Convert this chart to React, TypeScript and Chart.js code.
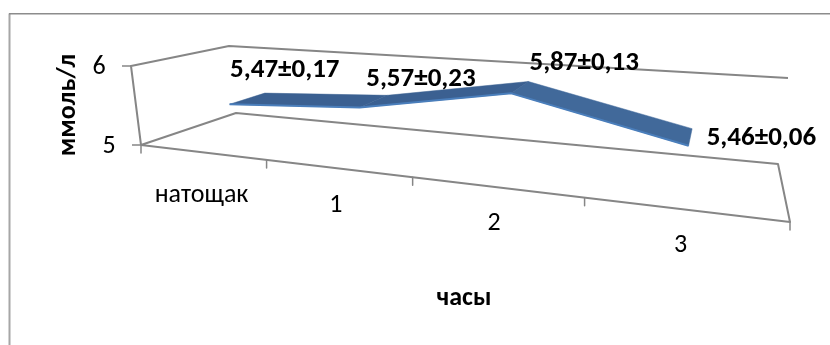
import React, { useEffect, useRef } from "react";
import { Chart, registerables } from "chart.js";

Chart.register(...registerables);

const categories = ["натощак", "1", "2", "3"];
const glucose = [5.47, 5.57, 5.87, 5.46];
const spread = [0.17, 0.23, 0.13, 0.06];
const valueTicks = [5, 6];

const VALUE_MIN = 5;
const VALUE_MAX = 6;
const WIDTH = 830;
const HEIGHT = 345;

type Pt = { x: number; y: number };

// Corners of the 3D plot box on screen: floor and ceiling, front-left, front-right, back-right, back-left.
const floorQuad: Pt[] = [
  { x: 141, y: 145 },
  { x: 790, y: 222 },
  { x: 778, y: 164 },
  { x: 236, y: 113 },
];
const ceilingQuad: Pt[] = [
  { x: 131, y: 66 },
  { x: 803.6, y: 112.4 },
  { x: 788, y: 78 },
  { x: 229, y: 46 },
];

// Depth band occupied by the ribbon inside the box.
const RIBBON_FRONT = 0.3;
const RIBBON_BACK = 0.7;
// Small correction of each ribbon vertex along the category axis.
const ribbonNudge = [0, -0.007, -0.014, -0.005];

const ribbonFaces = ["#3b6091", "#3b6091", "#41699a"];
const ribbonEdge = "#4a7ebb";
const axisGrey = "#868686";
const fontStack = "Carlito, Lato, 'Open Sans', sans-serif";

// Unit square to quadrilateral perspective mapping.
function squareToQuad(q: Pt[]) {
  const [p0, p1, p2, p3] = q;
  const dx1 = p1.x - p2.x, dx2 = p3.x - p2.x, sx = p0.x - p1.x + p2.x - p3.x;
  const dy1 = p1.y - p2.y, dy2 = p3.y - p2.y, sy = p0.y - p1.y + p2.y - p3.y;
  const den = dx1 * dy2 - dx2 * dy1;
  const g = (sx * dy2 - dx2 * sy) / den;
  const h = (dx1 * sy - sx * dy1) / den;
  const a = p1.x - p0.x + g * p1.x, b = p3.x - p0.x + h * p3.x, c = p0.x;
  const d = p1.y - p0.y + g * p1.y, e = p3.y - p0.y + h * p3.y, f = p0.y;
  return (u: number, w: number): Pt => {
    const t = g * u + h * w + 1;
    return { x: (a * u + b * w + c) / t, y: (d * u + e * w + f) / t };
  };
}

const floorMap = squareToQuad(floorQuad);
const ceilingMap = squareToQuad(ceilingQuad);

// Position along the category axis (0..1), value, depth (0 front, 1 back) to screen.
function project(u: number, value: number, w: number): Pt {
  const a = floorMap(u, w);
  const b = ceilingMap(u, w);
  const t = (value - VALUE_MIN) / (VALUE_MAX - VALUE_MIN);
  return { x: a.x + (b.x - a.x) * t, y: a.y + (b.y - a.y) * t };
}

const slot = (i: number) => (i + 0.5) / categories.length;
const ribbonSlot = (i: number) => slot(i) + ribbonNudge[i];

const lineSet = (data: Pt[], color = axisGrey, width = 2) => ({
  data,
  showLine: true,
  borderColor: color,
  borderWidth: width,
  pointRadius: 0,
  fill: false,
  tension: 0,
  borderJoinStyle: "round" as const,
});

const faceSet = (data: Pt[], color: string) => ({
  data,
  showLine: true,
  borderColor: color,
  borderWidth: 0.5,
  backgroundColor: color,
  pointRadius: 0,
  fill: "shape" as const,
  tension: 0,
});

function buildDatasets() {
  const front = glucose.map((v, i) => project(ribbonSlot(i), v, RIBBON_FRONT));
  const back = glucose.map((v, i) => project(ribbonSlot(i), v, RIBBON_BACK));

  const faces = ribbonFaces.map((color, i) =>
    faceSet([front[i], front[i + 1], back[i + 1], back[i], front[i]], color)
  );

  const walls = [
    // floor outline
    lineSet([
      project(0, VALUE_MIN, 0),
      project(1, VALUE_MIN, 0),
      project(1, VALUE_MIN, 1),
      project(0, VALUE_MIN, 1),
      project(0, VALUE_MIN, 0),
    ]),
    // left wall front edge and top rim of the walls
    lineSet([
      project(0, VALUE_MIN, 0),
      project(0, VALUE_MAX, 0),
      project(0, VALUE_MAX, 1),
      project(1, VALUE_MAX, 1),
    ]),
  ];

  const valueTickMarks = valueTicks.map((v) => {
    const p = project(0, v, 0);
    return lineSet([{ x: p.x - 9, y: p.y }, p], axisGrey, 1.5);
  });

  const categoryTickMarks = [0, 1, 2, 3, 4].map((k) => {
    const p = project(k / categories.length, VALUE_MIN, 0);
    return lineSet([p, { x: p.x, y: p.y + 8 }], axisGrey, 1.5);
  });

  return [
    ...walls,
    ...valueTickMarks,
    ...categoryTickMarks,
    lineSet(front, ribbonEdge, 2),
    ...faces,
  ];
}

// Hand-tuned text placement, relative to the projected anchor of each label.
const pointLabelOffsets: Pt[] = [
  { x: 37, y: -28 },
  { x: 47, y: -22 },
  { x: 64, y: -24 },
  { x: 71, y: 1 },
];
const categoryLabelOffsets: Pt[] = [
  { x: 0, y: 43 },
  { x: -1, y: 37 },
  { x: -1, y: 37 },
  { x: -2, y: 36 },
];

const drawText = (
  ctx: CanvasRenderingContext2D,
  text: string,
  x: number,
  y: number,
  font: string,
  angle = 0
) => {
  ctx.save();
  ctx.translate(x, y);
  ctx.rotate(angle);
  ctx.font = font;
  ctx.fillStyle = "#000000";
  ctx.textAlign = "center";
  ctx.textBaseline = "middle";
  ctx.fillText(text, 0, 0);
  ctx.restore();
};

const formatValue = (v: number) => v.toFixed(2).replace(".", ",");

const annotationPlugin = {
  id: "plotAnnotations",
  afterDraw(chart: Chart) {
    const ctx = chart.ctx;
    ctx.save();
    // outer chart frame, left and top edges
    ctx.lineWidth = 2;
    ctx.strokeStyle = "#a6a6a6";
    ctx.beginPath();
    ctx.moveTo(9.5, HEIGHT);
    ctx.lineTo(9.5, 13.5);
    ctx.stroke();
    ctx.lineWidth = 1.5;
    ctx.strokeStyle = "#8c8c8c";
    ctx.beginPath();
    ctx.moveTo(9, 13.75);
    ctx.lineTo(WIDTH, 13.75);
    ctx.stroke();
    ctx.restore();

    valueTicks.forEach((v) => {
      const p = project(0, v, 0);
      drawText(ctx, String(v), p.x - 32, p.y + 1, `26px ${fontStack}`);
    });
    categories.forEach((c, i) => {
      const p = project(slot(i), VALUE_MIN, 0);
      const o = categoryLabelOffsets[i];
      drawText(ctx, c, p.x + o.x, p.y + o.y, `26px ${fontStack}`);
    });
    glucose.forEach((v, i) => {
      const p = project(ribbonSlot(i), v, (RIBBON_FRONT + RIBBON_BACK) / 2);
      const o = pointLabelOffsets[i];
      drawText(
        ctx,
        `${formatValue(v)}±${formatValue(spread[i])}`,
        p.x + o.x,
        p.y + o.y,
        `bold 27px ${fontStack}`
      );
    });
    drawText(ctx, "ммоль/л", 68, 105, `bold 26px ${fontStack}`, -Math.PI / 2);
    drawText(ctx, "часы", 464, 298, `bold 26px ${fontStack}`);
  },
};

export default function App() {
  const ref = useRef<HTMLCanvasElement>(null);

  useEffect(() => {
    if (!ref.current) return;
    const chart = new Chart(ref.current, {
      type: "scatter",
      data: { datasets: buildDatasets() as any },
      options: {
        animation: false,
        responsive: false,
        layout: { padding: 0 },
        plugins: { legend: { display: false }, tooltip: { enabled: false } },
        scales: {
          x: { type: "linear", display: false, min: 0, max: WIDTH },
          y: { type: "linear", display: false, min: 0, max: HEIGHT, reverse: true },
        },
      },
      plugins: [annotationPlugin],
    });
    return () => chart.destroy();
  }, []);

  return (
    <div style={{ position: "fixed", left: 0, top: 0, background: "#ffffff" }}>
      <canvas ref={ref} width={WIDTH} height={HEIGHT} style={{ display: "block" }} />
    </div>
  );
}
